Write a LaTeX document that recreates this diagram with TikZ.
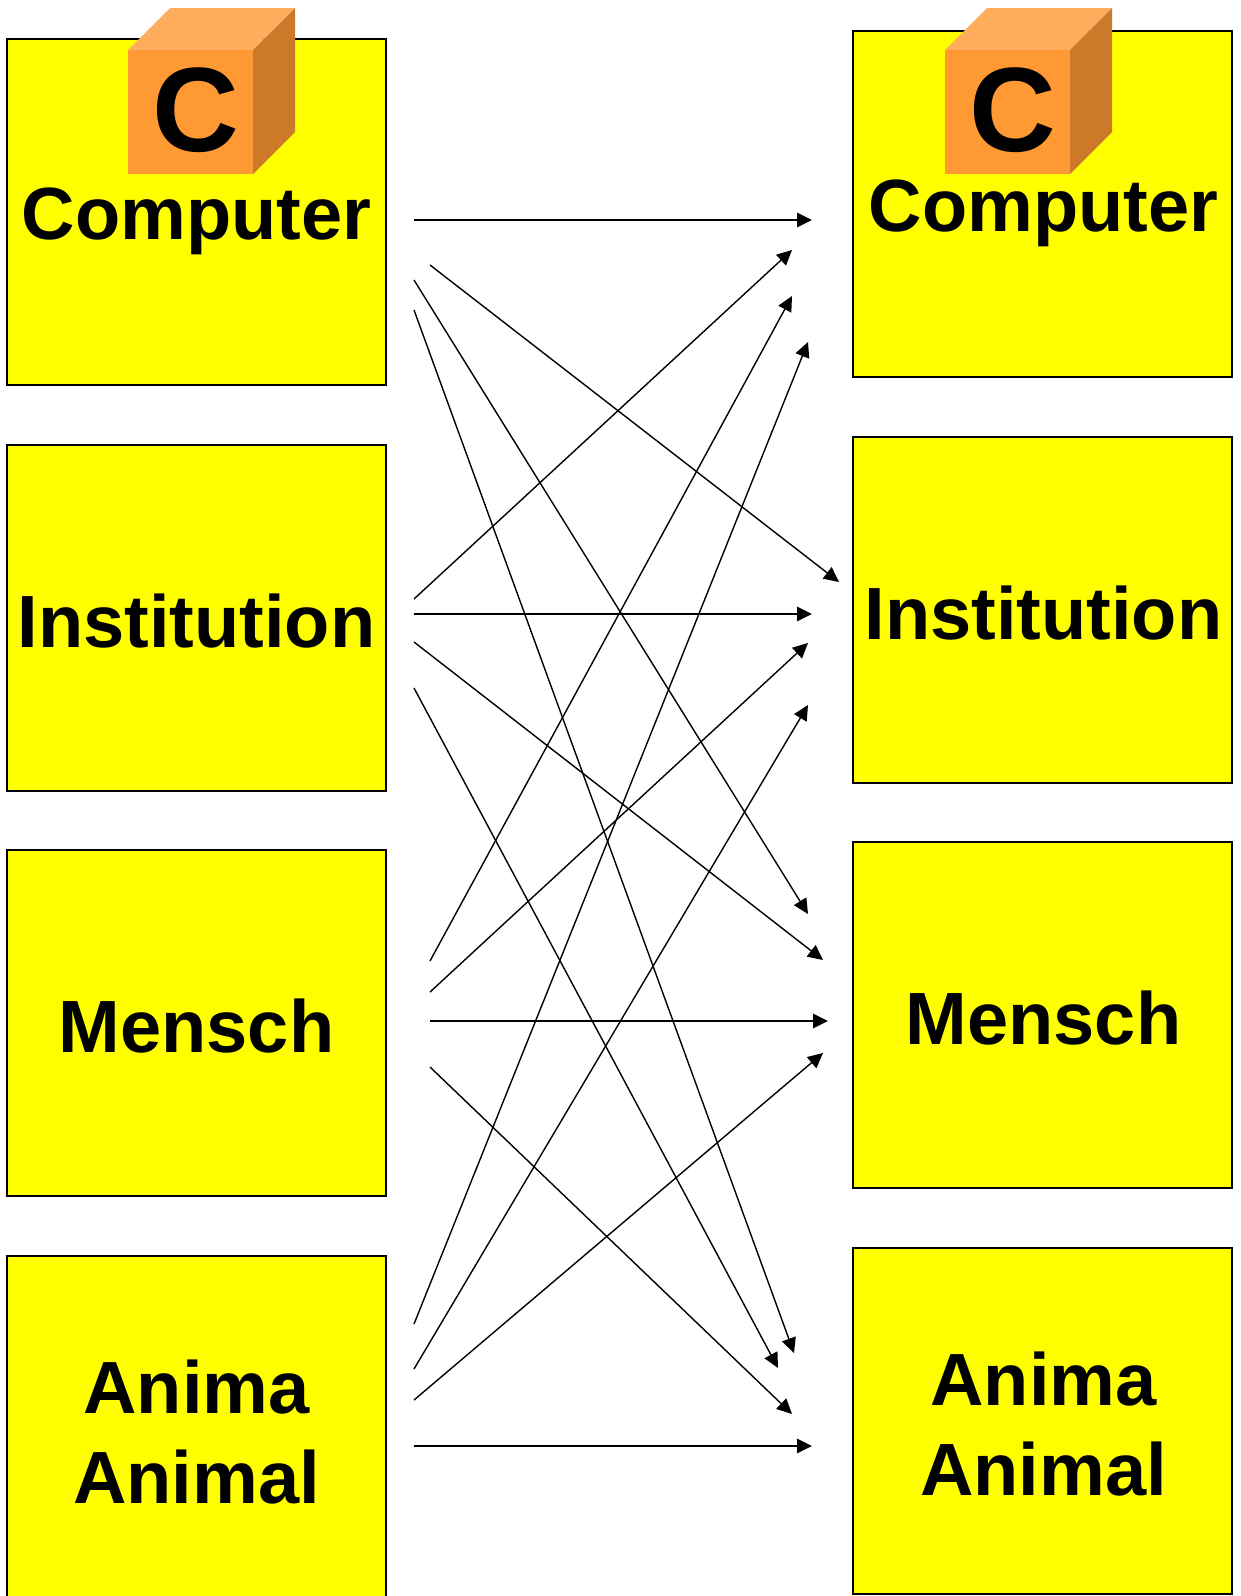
\documentclass[tikz,border=0pt]{standalone}
\usepackage{fontspec}
\setmainfont{Liberation Sans}
\usetikzlibrary{arrows.meta}
\definecolor{boxy}{HTML}{FFFF00}
\definecolor{cfront}{HTML}{FF9933}
\definecolor{ctop}{HTML}{FFAD5C}
\definecolor{cside}{HTML}{CC7A29}
\tikzset{
  x=0.5pt,y=-0.5pt,
  boxnode/.style={draw=black,fill=boxy,line width=0.8pt,rectangle,inner sep=0pt,outer sep=0pt,minimum width=189.5pt,minimum height=173pt,anchor=north west},
  lab/.style={font=\fontsize{37}{37}\selectfont\bfseries,anchor=base,inner sep=0pt},
  clab/.style={font=\fontsize{60}{60}\selectfont\bfseries,anchor=base,inner sep=0pt},
  arr/.style={-{Triangle[length=7.5pt,width=7.2pt]},line width=0.7pt,black,shorten >=0pt},
}
\newcommand{\cubeat}[1]{%
  \fill[cfront] (#1,50) rectangle (#1+125,174);
  \fill[ctop] (#1,50) -- (#1+42,8) -- (#1+167,8) -- (#1+125,50) -- cycle;
  \fill[cside] (#1+125,50) -- (#1+167,8) -- (#1+167,132) -- (#1+125,174) -- cycle;
}
\begin{document}
\begin{tikzpicture}
\useasboundingbox (0,0) rectangle (1241,1596);
% boxes
\node[boxnode] (L1) at (7,39) {};
\node[boxnode] (L2) at (7,445) {};
\node[boxnode] (L3) at (7,850) {};
\begin{scope}
\clip (0,0) rectangle (1241,1596);
\node[boxnode] (L4) at (7,1256) {};
\end{scope}
\node[boxnode] (R1) at (853,31) {};
\node[boxnode] (R2) at (853,437) {};
\node[boxnode] (R3) at (853,842) {};
\node[boxnode] (R4) at (853,1248) {};
% cubes
\cubeat{128}
\cubeat{945}
\node[clab] (cL) at (195.5,151) {C};
\node[clab] (cR) at (1012.5,151) {C};
% labels
\node[lab] (tL1) at (196.5,239) {Computer};
\node[lab] (tL2) at (196.5,647) {Institution};
\node[lab] (tL3) at (196.5,1052) {Mensch};
\node[lab] (tL4a) at (196.5,1413) {Anima};
\node[lab] (tL4b) at (196.5,1503) {Animal};
\node[lab] (tR1) at (1043.5,231) {Computer};
\node[lab] (tR2) at (1043.5,639) {Institution};
\node[lab] (tR3) at (1043.5,1044) {Mensch};
\node[lab] (tR4a) at (1043.5,1405) {Anima};
\node[lab] (tR4b) at (1043.5,1495) {Animal};
% connector ends
\foreach \n/\x/\y in {
 a1/414/220, a2/430/265, a3/414/280, a4/414/310,
 b1/414/599, b2/414/614, b3/414/642, b4/414/688,
 c1/430/961, c2/430/992, c3/430/1021, c4/430/1067,
 d1/414/1324, d2/414/1369, d3/414/1400, d4/414/1446,
 pa/812/220, pb/839/582, pc/808/914, pd/794/1353,
 qa/792/250, qb/812/614, qc/823/960, qd/778/1368,
 ra/792/296, rb/808/643, rc/828/1021, rd/792/1414,
 sa/808/342, sb/808/705, sc/823/1053, sd/812/1446}
  {\coordinate (\n) at (\x,\y);}
\draw[arr] (a1) -- (pa);
\draw[arr] (a2) -- (pb);
\draw[arr] (a3) -- (pc);
\draw[arr] (a4) -- (pd);
\draw[arr] (b1) -- (qa);
\draw[arr] (b2) -- (qb);
\draw[arr] (b3) -- (qc);
\draw[arr] (b4) -- (qd);
\draw[arr] (c1) -- (ra);
\draw[arr] (c2) -- (rb);
\draw[arr] (c3) -- (rc);
\draw[arr] (c4) -- (rd);
\draw[arr] (d1) -- (sa);
\draw[arr] (d2) -- (sb);
\draw[arr] (d3) -- (sc);
\draw[arr] (d4) -- (sd);
\end{tikzpicture}
\end{document}
